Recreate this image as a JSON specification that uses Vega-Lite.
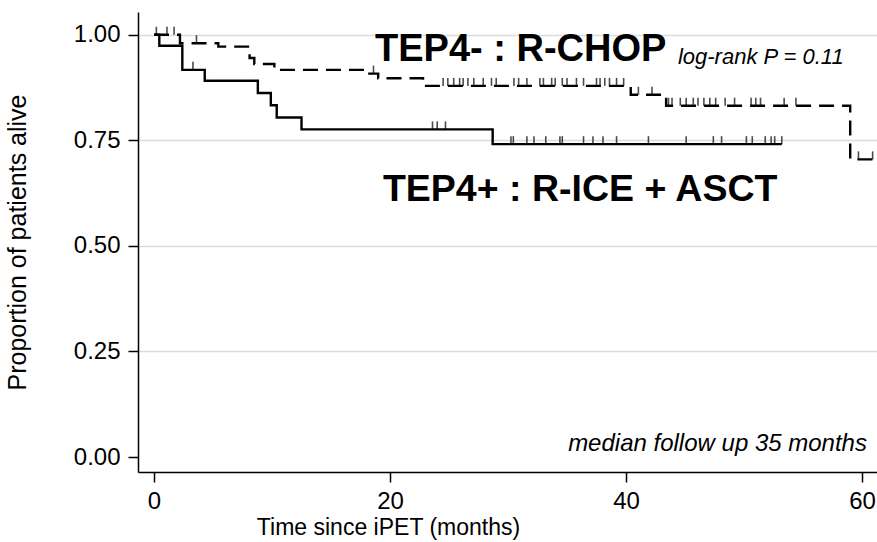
{
  "$schema": "https://vega.github.io/schema/vega-lite/v6.json",
  "width": 739,
  "height": 460,
  "autosize": {"type": "none"},
  "padding": {"left": 138, "top": 12, "right": 0, "bottom": 70},
  "background": "white",
  "config": {
    "view": {"stroke": null},
    "font": "Liberation Sans",
    "axis": {
      "domainColor": "black",
      "domainWidth": 1.5,
      "tickColor": "black",
      "tickWidth": 1.5,
      "tickSize": 10,
      "labelColor": "black",
      "titleColor": "black",
      "labelFont": "Liberation Sans",
      "titleFont": "Liberation Sans",
      "labelFontSize": 24,
      "titleFontSize": 23,
      "titleFontWeight": "normal"
    }
  },
  "datasets": {
    "curves": [
      {"group": "TEP4+", "time": 0, "surv": 1},
      {"group": "TEP4+", "time": 0.45, "surv": 0.974},
      {"group": "TEP4+", "time": 2.4, "surv": 0.917},
      {"group": "TEP4+", "time": 4.3, "surv": 0.891},
      {"group": "TEP4+", "time": 8.8, "surv": 0.862},
      {"group": "TEP4+", "time": 9.9, "surv": 0.833},
      {"group": "TEP4+", "time": 10.4, "surv": 0.804},
      {"group": "TEP4+", "time": 12.5, "surv": 0.776},
      {"group": "TEP4+", "time": 28.7, "surv": 0.741},
      {"group": "TEP4+", "time": 53.2, "surv": 0.741},
      {"group": "TEP4-", "time": 0, "surv": 1},
      {"group": "TEP4-", "time": 2.2, "surv": 0.98},
      {"group": "TEP4-", "time": 5.45, "surv": 0.972},
      {"group": "TEP4-", "time": 8.1, "surv": 0.945},
      {"group": "TEP4-", "time": 8.5, "surv": 0.931},
      {"group": "TEP4-", "time": 10.2, "surv": 0.917},
      {"group": "TEP4-", "time": 18.0, "surv": 0.908},
      {"group": "TEP4-", "time": 19.0, "surv": 0.897},
      {"group": "TEP4-", "time": 22.8, "surv": 0.879},
      {"group": "TEP4-", "time": 40.4, "surv": 0.858},
      {"group": "TEP4-", "time": 43.4, "surv": 0.832},
      {"group": "TEP4-", "time": 59.0, "surv": 0.705},
      {"group": "TEP4-", "time": 61.3, "surv": 0.705}
    ],
    "censored": [
      {"group": "TEP4+", "time": 3.3, "surv": 0.917},
      {"group": "TEP4+", "time": 23.6, "surv": 0.776},
      {"group": "TEP4+", "time": 24.0, "surv": 0.776},
      {"group": "TEP4+", "time": 24.7, "surv": 0.776},
      {"group": "TEP4+", "time": 30.25, "surv": 0.741},
      {"group": "TEP4+", "time": 30.45, "surv": 0.741},
      {"group": "TEP4+", "time": 31.6, "surv": 0.741},
      {"group": "TEP4+", "time": 32.2, "surv": 0.741},
      {"group": "TEP4+", "time": 33.2, "surv": 0.741},
      {"group": "TEP4+", "time": 34.4, "surv": 0.741},
      {"group": "TEP4+", "time": 34.6, "surv": 0.741},
      {"group": "TEP4+", "time": 36.4, "surv": 0.741},
      {"group": "TEP4+", "time": 37.2, "surv": 0.741},
      {"group": "TEP4+", "time": 38.05, "surv": 0.741},
      {"group": "TEP4+", "time": 39.2, "surv": 0.741},
      {"group": "TEP4+", "time": 41.9, "surv": 0.741},
      {"group": "TEP4+", "time": 45.1, "surv": 0.741},
      {"group": "TEP4+", "time": 47.4, "surv": 0.741},
      {"group": "TEP4+", "time": 48.1, "surv": 0.741},
      {"group": "TEP4+", "time": 50.2, "surv": 0.741},
      {"group": "TEP4+", "time": 50.7, "surv": 0.741},
      {"group": "TEP4+", "time": 51.8, "surv": 0.741},
      {"group": "TEP4+", "time": 52.3, "surv": 0.741},
      {"group": "TEP4+", "time": 52.6, "surv": 0.741},
      {"group": "TEP4+", "time": 53.2, "surv": 0.741},
      {"group": "TEP4-", "time": 0.2, "surv": 1},
      {"group": "TEP4-", "time": 1.1, "surv": 1},
      {"group": "TEP4-", "time": 1.7, "surv": 1},
      {"group": "TEP4-", "time": 3.6, "surv": 0.98},
      {"group": "TEP4-", "time": 18.6, "surv": 0.908},
      {"group": "TEP4-", "time": 24.5, "surv": 0.879},
      {"group": "TEP4-", "time": 24.9, "surv": 0.879},
      {"group": "TEP4-", "time": 25.4, "surv": 0.879},
      {"group": "TEP4-", "time": 25.9, "surv": 0.879},
      {"group": "TEP4-", "time": 26.2, "surv": 0.879},
      {"group": "TEP4-", "time": 26.6, "surv": 0.879},
      {"group": "TEP4-", "time": 27.1, "surv": 0.879},
      {"group": "TEP4-", "time": 27.9, "surv": 0.879},
      {"group": "TEP4-", "time": 28.6, "surv": 0.879},
      {"group": "TEP4-", "time": 29.0, "surv": 0.879},
      {"group": "TEP4-", "time": 30.5, "surv": 0.879},
      {"group": "TEP4-", "time": 30.9, "surv": 0.879},
      {"group": "TEP4-", "time": 31.6, "surv": 0.879},
      {"group": "TEP4-", "time": 32.7, "surv": 0.879},
      {"group": "TEP4-", "time": 33.0, "surv": 0.879},
      {"group": "TEP4-", "time": 33.7, "surv": 0.879},
      {"group": "TEP4-", "time": 34.0, "surv": 0.879},
      {"group": "TEP4-", "time": 34.6, "surv": 0.879},
      {"group": "TEP4-", "time": 35.0, "surv": 0.879},
      {"group": "TEP4-", "time": 35.8, "surv": 0.879},
      {"group": "TEP4-", "time": 36.4, "surv": 0.879},
      {"group": "TEP4-", "time": 37.5, "surv": 0.879},
      {"group": "TEP4-", "time": 37.8, "surv": 0.879},
      {"group": "TEP4-", "time": 38.2, "surv": 0.879},
      {"group": "TEP4-", "time": 38.6, "surv": 0.879},
      {"group": "TEP4-", "time": 39.2, "surv": 0.879},
      {"group": "TEP4-", "time": 39.8, "surv": 0.879},
      {"group": "TEP4-", "time": 41.05, "surv": 0.858},
      {"group": "TEP4-", "time": 42.2, "surv": 0.858},
      {"group": "TEP4-", "time": 43.6, "surv": 0.832},
      {"group": "TEP4-", "time": 43.9, "surv": 0.832},
      {"group": "TEP4-", "time": 44.6, "surv": 0.832},
      {"group": "TEP4-", "time": 45.1, "surv": 0.832},
      {"group": "TEP4-", "time": 45.7, "surv": 0.832},
      {"group": "TEP4-", "time": 46.1, "surv": 0.832},
      {"group": "TEP4-", "time": 46.6, "surv": 0.832},
      {"group": "TEP4-", "time": 47.1, "surv": 0.832},
      {"group": "TEP4-", "time": 47.6, "surv": 0.832},
      {"group": "TEP4-", "time": 48.4, "surv": 0.832},
      {"group": "TEP4-", "time": 49.2, "surv": 0.832},
      {"group": "TEP4-", "time": 50.6, "surv": 0.832},
      {"group": "TEP4-", "time": 51.0, "surv": 0.832},
      {"group": "TEP4-", "time": 51.4, "surv": 0.832},
      {"group": "TEP4-", "time": 53.4, "surv": 0.832},
      {"group": "TEP4-", "time": 54.4, "surv": 0.832},
      {"group": "TEP4-", "time": 59.7, "surv": 0.705},
      {"group": "TEP4-", "time": 60.9, "surv": 0.705}
    ],
    "notes": [
      {"label": "TEP4- : R-CHOP"},
      {"label": "TEP4+ : R-ICE + ASCT"},
      {"label": "log-rank P = 0.11"},
      {"label": "median follow up 35 months"}
    ]
  },
  "layer": [
    {
      "data": {"name": "curves"},
      "mark": {"type": "line", "interpolate": "step-after", "color": "black", "strokeWidth": 2.4, "clip": true},
      "encoding": {
        "x": {
          "field": "time",
          "type": "quantitative",
          "scale": {"domain": [-1.356, 61.27], "nice": false, "zero": false},
          "axis": {
            "values": [0, 20, 40, 60],
            "grid": false,
            "labelPadding": 7,
            "title": "Time since iPET (months)",
            "titleX": 250,
            "titleY": 62,
            "titleBaseline": "alphabetic"
          }
        },
        "y": {
          "field": "surv",
          "type": "quantitative",
          "scale": {"domain": [-0.0355, 1.054], "nice": false, "zero": false},
          "axis": {
            "values": [0, 0.25, 0.5, 0.75, 1],
            "format": ".2f",
            "grid": true,
            "gridColor": {"condition": {"test": "datum.value === 0", "value": "transparent"}, "value": "#dcdcdc"},
            "gridWidth": 1.5,
            "labelPadding": 8,
            "title": "Proportion of patients alive",
            "titleFontSize": 25,
            "titlePadding": 43
          }
        },
        "strokeDash": {
          "field": "group",
          "type": "nominal",
          "scale": {"domain": ["TEP4+", "TEP4-"], "range": [[1, 0], [15, 8]]},
          "legend": null
        }
      }
    },
    {
      "data": {"name": "censored"},
      "mark": {"type": "tick", "orient": "vertical", "color": "black", "size": 8, "thickness": 1.6, "yOffset": -4, "clip": true},
      "encoding": {
        "x": {"field": "time", "type": "quantitative"},
        "y": {"field": "surv", "type": "quantitative"}
      }
    },
    {
      "data": {"name": "notes"},
      "transform": [{"filter": "datum.label === 'TEP4- : R-CHOP'"}],
      "mark": {"type": "text", "align": "left", "baseline": "alphabetic", "fontSize": 38, "fontWeight": "bold", "font": "Liberation Sans", "color": "black"},
      "encoding": {"x": {"datum": 18.73}, "y": {"datum": 0.937}, "text": {"field": "label"}}
    },
    {
      "data": {"name": "notes"},
      "transform": [{"filter": "datum.label === 'TEP4+ : R-ICE + ASCT'"}],
      "mark": {"type": "text", "align": "left", "baseline": "alphabetic", "fontSize": 37.5, "fontWeight": "bold", "font": "Liberation Sans", "color": "black"},
      "encoding": {"x": {"datum": 19.4}, "y": {"datum": 0.607}, "text": {"field": "label"}}
    },
    {
      "data": {"name": "notes"},
      "transform": [{"filter": "datum.label === 'log-rank P = 0.11'"}],
      "mark": {"type": "text", "align": "left", "baseline": "alphabetic", "fontSize": 22, "fontStyle": "italic", "font": "Liberation Sans", "color": "black"},
      "encoding": {"x": {"datum": 44.4}, "y": {"datum": 0.931}, "text": {"field": "label"}}
    },
    {
      "data": {"name": "notes"},
      "transform": [{"filter": "datum.label === 'median follow up 35 months'"}],
      "mark": {"type": "text", "align": "right", "baseline": "alphabetic", "fontSize": 24, "fontStyle": "italic", "font": "Liberation Sans", "color": "black"},
      "encoding": {"x": {"datum": 60.42}, "y": {"datum": 0.015}, "text": {"field": "label"}}
    }
  ]
}
